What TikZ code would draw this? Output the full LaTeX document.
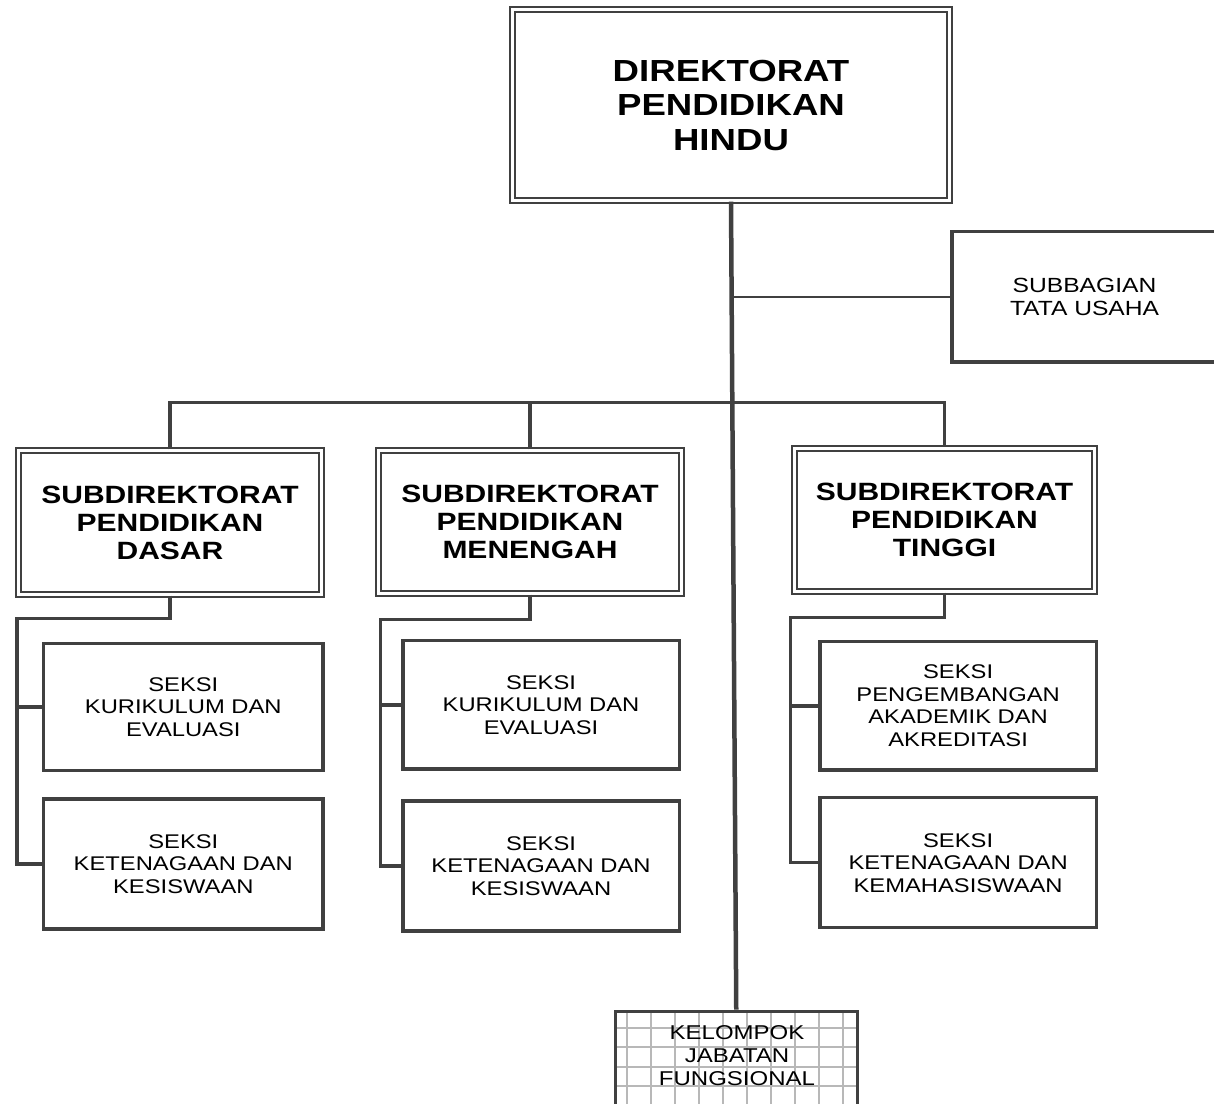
\documentclass[tikz,border=0pt]{standalone}
\usepackage{fontspec}
\newfontfamily\af[FakeStretch=1.2]{Liberation Sans}
\definecolor{lc}{HTML}{404040}
\definecolor{gc}{HTML}{B8B8B8}
\begin{document}
\begin{tikzpicture}[x=1pt,y=-1pt,
  ln/.style={draw=lc, line width=3.4pt},
  dbox/.style={draw=lc, double=white, double distance=2.5pt, line width=2.2pt, inner sep=0pt, align=center, text=black},
  sbox/.style={draw=lc, line width=3.4pt, inner sep=0pt, align=center, text=black},
  topfont/.style={font=\af\bfseries\fontsize{30.5pt}{34.5pt}\selectfont},
  subfont/.style={font=\af\bfseries\fontsize{25pt}{28pt}\selectfont},
  secfont/.style={font=\af\fontsize{19.8pt}{22.5pt}\selectfont},
  sbgfont/.style={font=\af\fontsize{20.5pt}{22.5pt}\selectfont},
  kjffont/.style={font=\af\fontsize{20pt}{23pt}\selectfont},
  gridline/.style={draw=gc, line width=1.8pt}]
\useasboundingbox (0,0) rectangle (1214,1103);
\clip (0,0) rectangle (1214,1103);
\fill[white] (0,0) rectangle (1214,1103);

% main boxes
\node[dbox, topfont, minimum width=437pt, minimum height=191pt] (top) at (731,105) {DIREKTORAT\\PENDIDIKAN\\HINDU};
\node[sbox, sbgfont, line width=3.6pt, minimum width=265pt, minimum height=130.3pt] (sub) at (1084.5,296.8) {SUBBAGIAN\\TATA USAHA};

\node[dbox, subfont, minimum width=303pt, minimum height=144pt] (dasar) at (170,522.5) {SUBDIREKTORAT\\PENDIDIKAN\\DASAR};
\node[dbox, subfont, minimum width=303pt, minimum height=143pt] (menengah) at (530,522) {SUBDIREKTORAT\\PENDIDIKAN\\MENENGAH};
\node[dbox, subfont, minimum width=300pt, minimum height=143pt] (tinggi) at (944.5,520) {SUBDIREKTORAT\\PENDIDIKAN\\TINGGI};

% seksi boxes
\node[sbox, secfont, minimum width=279.3pt, minimum height=126.8pt] (ds1) at (183.3,707) {SEKSI\\KURIKULUM DAN\\EVALUASI};
\node[sbox, secfont, minimum width=279.3pt, minimum height=130pt] (ds2) at (183.3,864) {SEKSI\\KETENAGAAN DAN\\KESISWAAN};
\node[sbox, secfont, minimum width=276.4pt, minimum height=128.5pt] (ms1) at (541,704.8) {SEKSI\\KURIKULUM DAN\\EVALUASI};
\node[sbox, secfont, minimum width=276.4pt, minimum height=130pt] (ms2) at (541,866) {SEKSI\\KETENAGAAN DAN\\KESISWAAN};
\node[sbox, secfont, minimum width=276.2pt, minimum height=128.3pt] (ts1) at (958.1,705.8) {SEKSI\\PENGEMBANGAN\\AKADEMIK DAN\\AKREDITASI};
\node[sbox, secfont, minimum width=276.2pt, minimum height=130pt] (ts2) at (958.1,862.7) {SEKSI\\KETENAGAAN DAN\\KEMAHASISWAAN};

% kelompok jabatan fungsional (grid box)
\node[sbox, minimum width=242pt, minimum height=120pt,
  path picture={
    \foreach \i in {0,...,9}
      \draw[gridline] ([shift={(11.7+24*\i,0)}]path picture bounding box.north west) -- ++(0,130);
    \foreach \j in {0,...,4}
      \draw[gridline] ([shift={(0,16.7+19.3*\j)}]path picture bounding box.north west) -- ++(250,0);
  }] (kjf) at (736.25,1071.3) {};
\node[kjffont, align=center, inner sep=0pt] (kjftext) at (737,1056) {KELOMPOK\\JABATAN\\FUNGSIONAL};

% junction coordinates
\coordinate (bus) at (731,402.3);
\coordinate (dj) at (17,618.3);
\coordinate (mj) at (380.3,619.3);
\coordinate (tj) at (790.3,617.7);

% connectors
\draw[ln, line width=4.5pt] (top.south) -- (kjf.north);
\draw[ln, line width=2pt] (sub.west) -- (sub.west -| top.south);
\draw[ln] (dasar.north) |- (bus) -| (tinggi.north);
\draw[ln] (menengah.north) -- (menengah.north |- bus);

\draw[ln] (dasar.south) |- (dj) |- (ds1.west);
\draw[ln] (dj) |- (ds2.west);
\draw[ln] (menengah.south) |- (mj) |- (ms1.west);
\draw[ln] (mj) |- (ms2.west);
\draw[ln] (tinggi.south) |- (tj) |- (ts1.west);
\draw[ln] (tj) |- (ts2.west);
\end{tikzpicture}
\end{document}
